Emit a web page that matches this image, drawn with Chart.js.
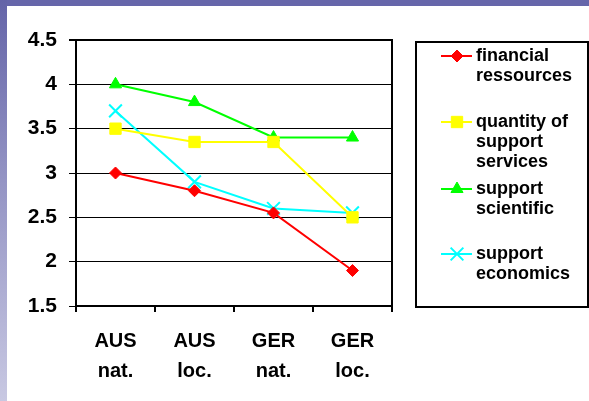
<!DOCTYPE html>
<html>
<head>
<meta charset="utf-8">
<title>Support ratings</title>
<script src="https://cdn.jsdelivr.net/npm/chart.js"></script>
<style>
  html, body { margin: 0; padding: 0; background: #fff; }
  #wrap { position: relative; width: 589px; height: 401px; overflow: hidden; }
  #grafico { position: absolute; left: 0; top: 0; }
  .barraTopo { position: absolute; left: 0; top: 0; width: 589px; height: 6px; background: #6666aa; }
  .barraLado { position: absolute; left: 0; top: 0; width: 7px; height: 401px;
    background: linear-gradient(to bottom, #6464a8 0%, #9494c4 45%, #c8c8e2 100%); }
</style>
</head>
<body>
<div id="wrap">
  <canvas id="grafico" width="589" height="401"></canvas>
  <div class="barraTopo"></div>
  <div class="barraLado"></div>
</div>
<script>
// Dados do gráfico
const categorias = [["AUS", "nat."], ["AUS", "loc."], ["GER", "nat."], ["GER", "loc."]];
const nomesSeries = [
  ["financial", "ressources"],
  ["quantity of", "support", "services"],
  ["support", "scientific"],
  ["support", "economics"]
];
const financial = [3.0, 2.8, 2.55, 1.9];
const quantity = [3.5, 3.35, 3.35, 2.5];
const scientific = [4.0, 3.8, 3.4, 3.4];
const economics = [3.7, 2.9, 2.6, 2.55];
const yMin = 1.5;
const yMax = 4.5;
const yPasso = 0.5;

const fonte = "Arial, 'Liberation Sans', sans-serif";

// desenha um marcador igual aos pontos do gráfico (para a legenda)
function desenharMarcador(ctx, ds, x, y) {
  const r = ds.pointRadius;
  ctx.save();
  ctx.fillStyle = ds.pointBackgroundColor;
  ctx.strokeStyle = ds.pointBorderColor;
  ctx.lineWidth = ds.pointBorderWidth;
  ctx.beginPath();
  if (ds.pointStyle === "rectRot") {
    ctx.moveTo(x, y - r); ctx.lineTo(x + r, y); ctx.lineTo(x, y + r); ctx.lineTo(x - r, y);
    ctx.closePath(); ctx.fill(); ctx.stroke();
  } else if (ds.pointStyle === "rect") {
    const s = r * Math.SQRT1_2;
    ctx.rect(x - s, y - s, 2 * s, 2 * s); ctx.fill(); ctx.stroke();
  } else if (ds.pointStyle === "triangle") {
    const a = Math.sin(Math.PI / 3) * r;
    ctx.moveTo(x, y - r); ctx.lineTo(x + a, y + r / 2); ctx.lineTo(x - a, y + r / 2);
    ctx.closePath(); ctx.fill(); ctx.stroke();
  } else {
    const d = r * Math.SQRT1_2;
    ctx.moveTo(x - d, y - d); ctx.lineTo(x + d, y + d);
    ctx.moveTo(x - d, y + d); ctx.lineTo(x + d, y - d);
    ctx.stroke();
  }
  ctx.restore();
}

// moldura da área do gráfico (topo e direita)
const moldura = {
  id: "moldura",
  beforeDatasetsDraw(chart) {
    const a = chart.chartArea;
    const ctx = chart.ctx;
    ctx.save();
    ctx.strokeStyle = "#000";
    ctx.lineWidth = 2;
    ctx.beginPath();
    ctx.moveTo(a.left - 7, a.top);
    ctx.lineTo(a.right, a.top);
    ctx.lineTo(a.right, a.bottom);
    ctx.stroke();
    ctx.restore();
  }
};

// legenda com caixa e textos em várias linhas
const legendaCaixa = {
  id: "legendaCaixa",
  afterDraw(chart) {
    const ctx = chart.ctx;
    const linhasY = [56, 122, 189, 254];
    ctx.save();
    ctx.strokeStyle = "#000";
    ctx.lineWidth = 2;
    ctx.strokeRect(416, 42, 172, 265);
    ctx.font = "bold 18px " + fonte;
    ctx.textBaseline = "middle";
    ctx.fillStyle = "#000";
    chart.data.datasets.forEach((ds, i) => {
      const y = linhasY[i];
      ctx.strokeStyle = ds.borderColor;
      ctx.lineWidth = 2;
      ctx.beginPath();
      ctx.moveTo(441, y);
      ctx.lineTo(472, y);
      ctx.stroke();
      desenharMarcador(ctx, ds, 457, y);
      ctx.fillStyle = "#000";
      nomesSeries[i].forEach((linha, j) => {
        ctx.fillText(linha, 476, y + j * 20);
      });
    });
    ctx.restore();
  }
};

function serie(nome, valores, cor, estilo, raio, borda) {
  return {
    label: nome.join(" "),
    data: valores,
    borderColor: cor,
    backgroundColor: cor,
    borderWidth: 2,
    pointStyle: estilo,
    pointRadius: raio,
    pointHoverRadius: raio,
    pointBackgroundColor: cor,
    pointBorderColor: cor,
    pointBorderWidth: borda,
    tension: 0
  };
}

const ctx = document.getElementById("grafico").getContext("2d");

new Chart(ctx, {
  type: "line",
  data: {
    labels: categorias,
    datasets: [
      serie(nomesSeries[0], financial, "#ff0000", "rectRot", 6, 1),
      serie(nomesSeries[1], quantity, "#ffff00", "rect", 8, 1),
      serie(nomesSeries[2], scientific, "#00ff00", "triangle", 7, 1),
      serie(nomesSeries[3], economics, "#00ffff", "crossRot", 9, 2)
    ]
  },
  options: {
    responsive: false,
    animation: false,
    layout: { padding: { left: 8, top: 40, right: 197, bottom: 0 } },
    plugins: {
      legend: { display: false },
      tooltip: { enabled: false }
    },
    scales: {
      x: {
        offset: true,
        afterFit: (s) => { s.height = 95; },
        grid: {
          offset: true,
          drawOnChartArea: false,
          color: "#000",
          lineWidth: 2,
          tickLength: 6
        },
        border: { display: true, color: "#000", width: 2 },
        ticks: {
          color: "#000",
          padding: 14,
          maxRotation: 0,
          font: { family: fonte, size: 20, weight: "bold", lineHeight: 1.5 }
        }
      },
      y: {
        min: yMin,
        max: yMax,
        afterFit: (s) => { s.width = 68; },
        grid: {
          color: "#000",
          lineWidth: 1,
          tickLength: 7
        },
        border: { display: true, color: "#000", width: 2 },
        ticks: {
          stepSize: yPasso,
          color: "#000",
          padding: 12,
          callback: (v) => String(v),
          font: { family: fonte, size: 21, weight: "bold" }
        }
      }
    }
  },
  plugins: [moldura, legendaCaixa]
});
</script>
</body>
</html>
